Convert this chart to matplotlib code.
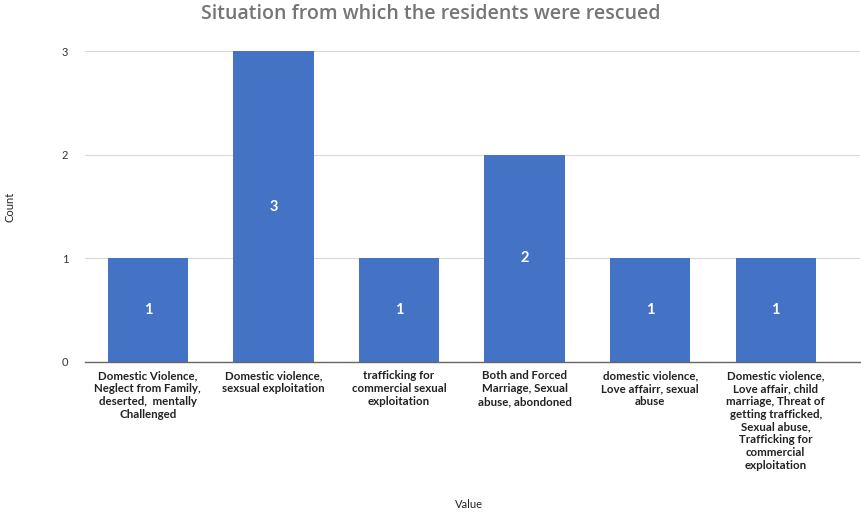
import numpy as np
import matplotlib.pyplot as plt

categories = [
    "Domestic Violence,\nNeglect from Family,\ndeserted,  mentally\nChallenged",
    "Domestic violence,\nsexsual exploitation",
    "trafficking for\ncommercial sexual\nexploitation",
    "Both and Forced\nMarriage, Sexual\nabuse, abondoned",
    "domestic violence,\nLove affairr, sexual\nabuse",
    "Domestic violence,\nLove affair, child\nmarriage, Threat of\ngetting trafficked,\nSexual abuse,\nTrafficking for\ncommercial\nexploitation",
]
counts = [1, 3, 1, 2, 1, 1]
yticks = [0, 1, 2, 3]

fig = plt.figure(figsize=(8.61, 5.12), dpi=100)
ax = fig.add_axes([0.0987, 0.293, 0.9, 0.607])

x = np.arange(len(categories))
bars = ax.bar(x, counts, width=0.64, color="#4472C4", zorder=3)

for xi, v in zip(x, counts):
    ax.text(xi, v / 2, str(v), ha="center", va="center", color="white",
            fontsize=10.5, fontweight="bold", family="Lato")

ax.set_xlim(-0.5, 5.67)
ax.set_ylim(0, 3)
ax.set_yticks(yticks)
ax.set_yticklabels([str(t) for t in yticks], fontsize=8, family="Lato", color="#333333")
ax.set_xticks(x)
ax.set_xticklabels(categories, fontsize=8.3, family="Lato", fontweight="bold",
                   color="#222222", va="top", linespacing=1.2)
ax.tick_params(axis="y", length=0, pad=12)
ax.tick_params(axis="x", length=0, pad=6)
ax.grid(axis="y", color="#d9d9d9", linewidth=0.8, zorder=0)
for s in ["top", "right", "left"]:
    ax.spines[s].set_visible(False)
ax.spines["bottom"].set_color("#666666")
ax.spines["bottom"].set_linewidth(1)
ax.spines["bottom"].set_zorder(4)

fig.text(0.50, 0.972, "Situation from which the residents were rescued", ha="center",
         va="center", fontsize=14, fontweight="semibold", family="Open Sans", color="#757575")
fig.text(0.012, 0.595, "Count", rotation=90, ha="center", va="center",
         fontsize=8, family="Lato", color="#222222")
fig.text(0.545, 0.014, "Value", ha="center", va="center",
         fontsize=8, family="Lato", color="#222222")

fig.savefig("out.png", dpi=100)
